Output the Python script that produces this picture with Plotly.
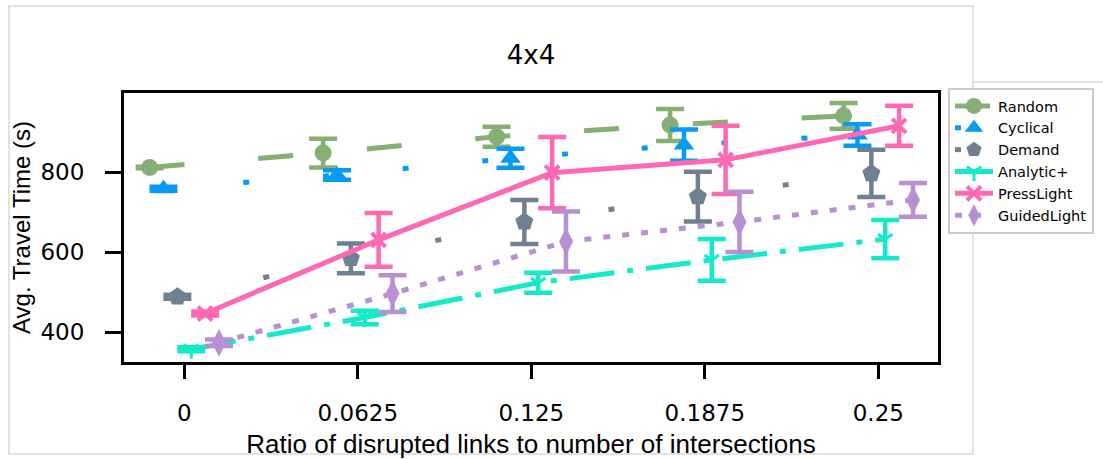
import plotly.graph_objects as go

# ---- data ----
x_labels = ["0", "0.0625", "0.125", "0.1875", "0.25"]
series_names = ["Random", "Cyclical", "Demand", "Analytic+", "PressLight", "GuidedLight"]

random_vals = [812, 848, 889, 918, 941]
random_err = [2, 36, 25, 40, 32]
cyclical_vals = [759, 793, 835, 868, 893]
cyclical_err = [5, 12, 24, 39, 27]
demand_vals = [489, 585, 676, 739, 797]
demand_err = [5, 37, 55, 62, 59]
analytic_vals = [358, 437, 524, 581, 633]
analytic_err = [5, 17, 25, 52, 48]
presslight_vals = [447, 631, 799, 831, 916]
presslight_err = [5, 67, 89, 85, 50]
guided_vals = [374, 497, 627, 676, 731]
guided_err = [8, 46, 75, 75, 42]

values = [random_vals, cyclical_vals, demand_vals, analytic_vals, presslight_vals, guided_vals]
errors = [random_err, cyclical_err, demand_err, analytic_err, presslight_err, guided_err]

# ---- styles ----
colors = ["#87ae73", "#069af3", "#708090", "#13eac9", "#ff69b4", "#b790d4"]
dashes = ["35px,74px", "6px,74px", "6px,82px", "45px,13px,6px,13px", "solid", "7px,12px"]
symbols = ["circle", "triangle-up", "pentagon", "y-down", "x-thin", "diamond-tall"]
msizes = [17, 18, 19, 12, 14, 20]
mline = [0, 0, 0, 3, 4, 0]
offsets = [-0.2, -0.12, -0.04, 0.04, 0.12, 0.2]

W, H = 1103, 459
L, R, T, B = 124, 938, 93, 362
PW, PH = R - L, B - T


def px_x(p):
    return (p - L) / PW


def px_y(p):
    return (B - p) / PH


fig = go.Figure()
for name, vals, errs, col, dash, sym, ms, ml, off in zip(
        series_names, values, errors, colors, dashes, symbols, msizes, mline, offsets):
    xs = [i + off for i in range(len(vals))]
    fig.add_trace(go.Scatter(
        x=xs, y=vals, name=name, mode="lines+markers",
        line=dict(color=col, width=5, dash=dash),
        marker=dict(symbol=sym, size=ms, color=col, line=dict(color=col, width=ml)),
        error_y=dict(type="data", array=errs, visible=True, color=col,
                     thickness=4.5, width=14),
    ))

frame_col = "#d9d9d9"
shapes = [
    dict(type="rect", xref="paper", yref="paper",
         x0=px_x(9), x1=px_x(973), y0=px_y(454), y1=px_y(6),
         line=dict(color=frame_col, width=1.5), layer="below"),
    dict(type="line", xref="paper", yref="paper",
         x0=px_x(973), x1=px_x(1103), y0=px_y(82), y1=px_y(82),
         line=dict(color=frame_col, width=1.5), layer="below"),
]

fig.update_layout(
    width=W, height=H, autosize=False,
    margin=dict(l=L, r=W - R, t=T, b=H - B, pad=0, autoexpand=False),
    paper_bgcolor="white", plot_bgcolor="white",
    font=dict(family="DejaVu Sans", color="black"),
    title=dict(text="4x4", x=0.5, xref="paper", y=1 - 55 / H, yanchor="middle",
               font=dict(family="DejaVu Sans", size=26, color="black")),
    showlegend=True,
    legend=dict(x=px_x(948), y=px_y(88), xanchor="left", yanchor="top",
                bgcolor="white", bordercolor="#cccccc", borderwidth=2,
                font=dict(family="DejaVu Sans", size=14.5, color="black"),
                itemwidth=38, tracegroupgap=0),
    shapes=shapes,
)

fig.update_xaxes(
    range=[(L - 184.3) / 173.5, (R - 184.3) / 173.5],
    tickmode="array", tickvals=list(range(len(x_labels))), ticktext=x_labels,
    showline=True, linecolor="black", linewidth=3, mirror=True,
    ticks="outside", ticklen=14, tickwidth=3, tickcolor="black",
    ticklabelstandoff=14, automargin=False,
    showgrid=False, zeroline=False,
    tickfont=dict(family="DejaVu Sans", size=23, color="black"),
    title=dict(text="Ratio of disrupted links to number of intersections",
               font=dict(family="Liberation Sans", size=26, color="black"), standoff=13),
)
fig.update_yaxes(
    range=[326, 998],
    tickvals=[400, 600, 800],
    showline=True, linecolor="black", linewidth=3, mirror=True,
    ticks="outside", ticklen=16, tickwidth=3, tickcolor="black",
    ticklabelstandoff=16, automargin=False,
    showgrid=False, zeroline=False,
    tickfont=dict(family="DejaVu Sans", size=23, color="black"),
    title=dict(text="Avg. Travel Time (s)",
               font=dict(family="Liberation Sans", size=24, color="black"), standoff=4),
)

fig.write_html("out.html", config={"displayModeBar": False},
               post_script="document.body.style.margin='0';")
